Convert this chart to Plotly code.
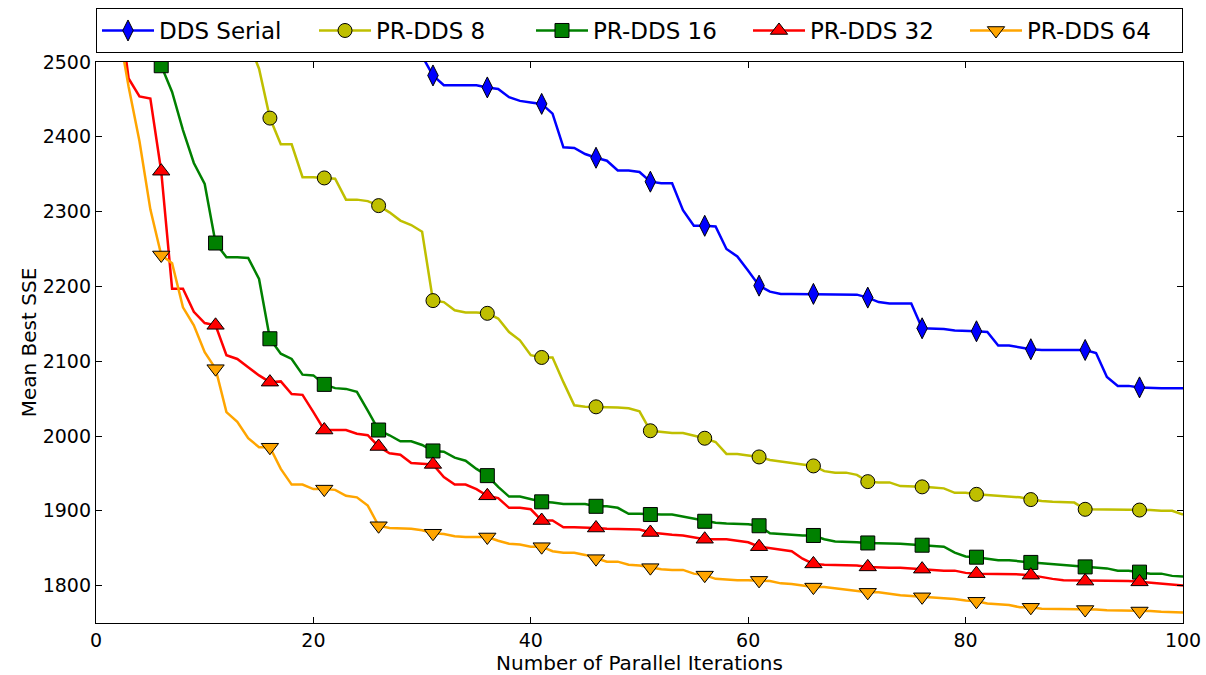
import plotly.graph_objects as go

iterations = list(range(1, 101))

dds_serial = [2975, 2968, 2950, 2944, 2931, 2902, 2896, 2880, 2861, 2853,
              2840, 2822, 2810, 2796, 2783, 2770, 2749, 2736, 2722, 2701,
              2690, 2672, 2655, 2631, 2610, 2590, 2566, 2547, 2529, 2508,
              2482, 2469, 2469, 2469, 2469, 2466, 2464, 2453, 2448, 2446,
              2444, 2431, 2386, 2385, 2377, 2372, 2368, 2355, 2355, 2353,
              2340, 2338, 2338, 2302, 2281, 2281, 2280, 2250, 2240, 2221,
              2201, 2193, 2190, 2190, 2190, 2190, 2190, 2190, 2190, 2189,
              2185, 2179, 2177, 2177, 2177, 2144, 2144, 2143, 2141, 2141,
              2140, 2139, 2121, 2121, 2118, 2116, 2115, 2115, 2115, 2115,
              2115, 2111, 2079, 2067, 2067, 2065, 2064, 2064, 2064, 2064]

pr_dds_8 = [2990, 2960, 2930, 2890, 2860, 2820, 2790, 2760, 2720, 2690,
            2650, 2610, 2575, 2528, 2491, 2425, 2390, 2390, 2346, 2346,
            2345, 2344, 2316, 2316, 2314, 2308, 2299, 2288, 2282, 2273,
            2181, 2179, 2168, 2165, 2165, 2164, 2157, 2139, 2128, 2108,
            2105, 2105, 2072, 2041, 2039, 2039, 2038, 2038, 2037, 2033,
            2007, 2005, 2004, 2004, 2001, 1997, 1992, 1976, 1976, 1974,
            1972, 1968, 1966, 1965, 1962, 1960, 1953, 1951, 1951, 1948,
            1939, 1938, 1938, 1933, 1933, 1932, 1931, 1930, 1924, 1924,
            1922, 1921, 1919, 1919, 1918, 1915, 1913, 1912, 1911, 1911,
            1902, 1902, 1902, 1901, 1901, 1901, 1901, 1900, 1900, 1895]

pr_dds_16 = [2950, 2850, 2750, 2640, 2560, 2495, 2460, 2409, 2365, 2337,
             2258, 2239, 2239, 2238, 2210, 2130, 2110, 2103, 2082, 2081,
             2069, 2064, 2063, 2059, 2034, 2008, 2001, 1993, 1993, 1988,
             1980, 1979, 1971, 1967, 1956, 1947, 1932, 1919, 1919, 1915,
             1912, 1911, 1909, 1909, 1909, 1906, 1906, 1904, 1896, 1896,
             1895, 1895, 1895, 1892, 1890, 1886, 1884, 1883, 1882, 1882,
             1880, 1870, 1869, 1868, 1867, 1867, 1862, 1859, 1858, 1858,
             1857, 1857, 1857, 1856, 1855, 1854, 1853, 1852, 1844, 1839,
             1838, 1836, 1834, 1834, 1832, 1831, 1830, 1829, 1827, 1826,
             1825, 1824, 1823, 1820, 1820, 1818, 1816, 1816, 1813, 1812]

pr_dds_32 = [2700, 2588, 2478, 2454, 2451, 2354, 2197, 2197, 2166, 2151,
             2148, 2108, 2103, 2092, 2081, 2072, 2073, 2056, 2055, 2032,
             2008, 2008, 2008, 2003, 2001, 1986, 1977, 1975, 1964, 1963,
             1962, 1945, 1935, 1935, 1929, 1920, 1917, 1904, 1904, 1902,
             1887, 1887, 1878, 1878, 1878, 1877, 1876, 1876, 1876, 1875,
             1871, 1869, 1868, 1867, 1864, 1862, 1862, 1862, 1860, 1858,
             1852, 1850, 1849, 1846, 1836, 1829, 1828, 1828, 1827, 1827,
             1825, 1824, 1824, 1824, 1823, 1822, 1821, 1820, 1820, 1817,
             1816, 1816, 1816, 1816, 1815, 1814, 1811, 1809, 1807, 1807,
             1806, 1806, 1806, 1806, 1806, 1805, 1804, 1802, 1801, 1800]

pr_dds_64 = [2680, 2550, 2467, 2394, 2303, 2242, 2231, 2172, 2148, 2112,
             2090, 2032, 2019, 1997, 1985, 1985, 1956, 1935, 1935, 1929,
             1929, 1928, 1920, 1918, 1907, 1880, 1877, 1877, 1876, 1874,
             1870, 1869, 1866, 1865, 1865, 1865, 1860, 1856, 1855, 1852,
             1852, 1846, 1844, 1844, 1841, 1836, 1832, 1832, 1828, 1827,
             1824, 1822, 1821, 1821, 1816, 1814, 1809, 1808, 1807, 1807,
             1807, 1806, 1803, 1802, 1800, 1798, 1798, 1796, 1795, 1792,
             1791, 1791, 1789, 1787, 1786, 1785, 1785, 1783, 1782, 1780,
             1779, 1776, 1775, 1774, 1771, 1771, 1769, 1769, 1769, 1769,
             1768, 1768, 1767, 1767, 1767, 1766, 1766, 1765, 1765, 1764]

series_names = ["DDS Serial", "PR-DDS 8", "PR-DDS 16", "PR-DDS 32", "PR-DDS 64"]
series_values = [dds_serial, pr_dds_8, pr_dds_16, pr_dds_32, pr_dds_64]
series_colors = ["#0000ff", "#bfbf00", "#008000", "#ff0000", "#ffa500"]
series_symbols = ["diamond-tall", "circle", "square", "triangle-up", "triangle-down"]
series_sizes = [15, 14, 14, 15, 15]
mark_every = 5

FONT = "DejaVu Sans"

fig = go.Figure()
for name, vals, col, sym, ms in zip(series_names, series_values, series_colors,
                                    series_symbols, series_sizes):
    fig.add_trace(go.Scatter(
        x=iterations, y=vals, mode="lines", name=name, legendgroup=name,
        showlegend=False, line=dict(color=col, width=2.5),
        hoverinfo="skip"))
    fig.add_trace(go.Scatter(
        x=iterations[::mark_every], y=vals[::mark_every], mode="markers",
        name=name, legendgroup=name, showlegend=False,
        marker=dict(symbol=sym, size=ms, color=col,
                    line=dict(color="black", width=1))))
    fig.add_trace(go.Scatter(
        x=[None], y=[None], mode="lines+markers", name=name, legendgroup=name,
        showlegend=True, line=dict(color=col, width=2.5),
        marker=dict(symbol=sym, size=ms, color=col,
                    line=dict(color="black", width=1))))

axis_common = dict(
    showline=True, linecolor="black", linewidth=1.3, mirror="ticks",
    ticks="inside", ticklen=6, tickwidth=1, tickcolor="black",
    showgrid=False, zeroline=False, automargin=False,
    tickfont=dict(family=FONT, size=19, color="black"),
)

fig.update_xaxes(range=[0, 100], tick0=0, dtick=20,
                 title=dict(text="Number of Parallel Iterations",
                            font=dict(family=FONT, size=20, color="black"),
                            standoff=6),
                 **axis_common)
fig.update_yaxes(range=[1750, 2500], tick0=1800, dtick=100,
                 title=dict(text="Mean Best SSE",
                            font=dict(family=FONT, size=20, color="black"),
                            standoff=0),
                 **axis_common)

fig.update_layout(
    width=1206, height=675,
    margin=dict(l=96, r=23, t=62, b=52, autoexpand=False),
    paper_bgcolor="white", plot_bgcolor="white",
    font=dict(family=FONT, color="black"),
    legend=dict(
        orientation="h", x=0, xanchor="left", y=1.016, yanchor="bottom",
        bgcolor="white", bordercolor="black", borderwidth=1,
        font=dict(family=FONT, size=23, color="black"),
        itemwidth=52, entrywidth=150, entrywidthmode="pixels",
        traceorder="normal", tracegroupgap=0,
    ),
)

fig.write_html("out.html",
               config={"displayModeBar": False},
               post_script="document.body.style.margin='0';document.body.style.overflow='hidden';")
